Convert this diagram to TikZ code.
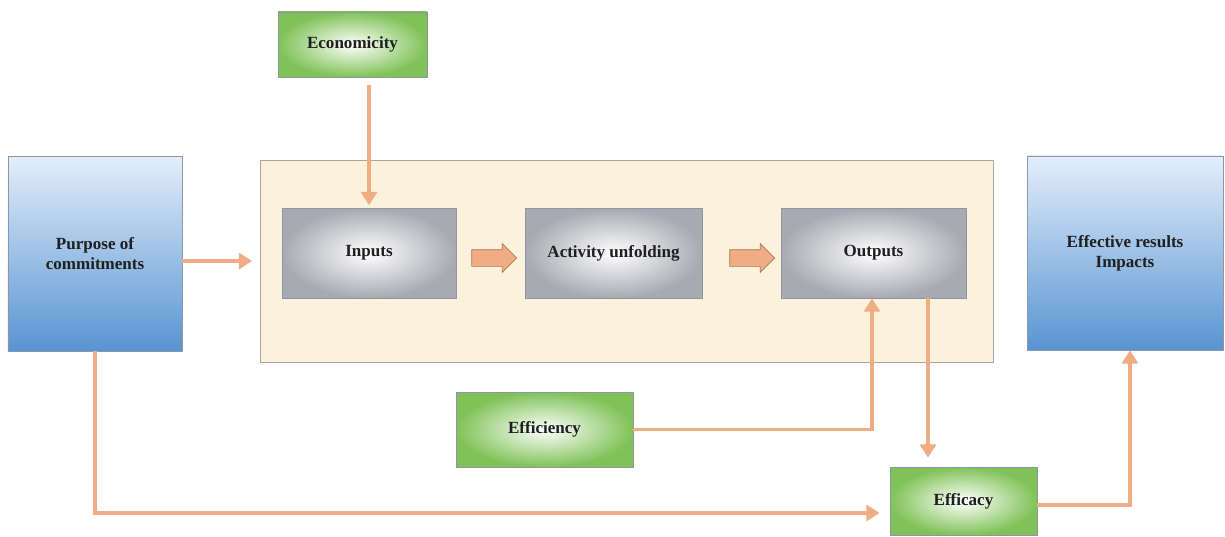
\documentclass[tikz,border=0pt]{standalone}
\usepackage{fontspec}
\setmainfont{Liberation Serif}
\usetikzlibrary{arrows.meta,shapes.arrows}
\definecolor{flowcol}{RGB}{240,172,130}
\definecolor{greenbox}{RGB}{128,194,88}
\definecolor{graybox}{RGB}{168,170,177}
\definecolor{bluetop}{RGB}{228,238,250}
\definecolor{bluebot}{RGB}{88,148,210}
\definecolor{bgfill}{RGB}{252,241,218}
\definecolor{edgecol}{RGB}{140,150,165}
\tikzset{
  lbl/.style={font=\fontsize{9.7}{11.5}\selectfont\bfseries, align=center, text=black!88},
  greenbox/.style={lbl, draw=edgecol, inner color=white, outer color=greenbox},
  graybox/.style={lbl, draw=edgecol, inner color=white, outer color=graybox},
  bluebox/.style={lbl, draw=edgecol, top color=bluetop, bottom color=bluebot},
  flow/.style={draw=flowcol, line width=2.2pt, -{Triangle[width=9pt,length=7.5pt]}},
  blockarrow/.style={single arrow, fill=flowcol, draw=flowcol!70!black, thin,
    minimum height=0.9cm, inner xsep=0pt, inner ysep=0.16cm,
    single arrow head extend=0.12cm, single arrow head indent=0pt}
}
\begin{document}
\begin{tikzpicture}
      \useasboundingbox (0,0) rectangle (24.5,-10.74);

      \node[draw=black!35, fill=bgfill, minimum width=14.66cm, minimum height=4.04cm] (bg) at (12.53,-5.22) {};

      \node[greenbox, minimum width=2.98cm, minimum height=1.3cm] (econ) at (7.05,-0.89) {Economicity};
      \node[bluebox, minimum width=3.48cm, minimum height=3.9cm] (purpose) at (1.9,-5.07) {Purpose of\\commitments};
      \node[graybox, minimum width=3.48cm, minimum height=1.8cm] (inputs) at (7.38,-5.06) {Inputs};
      \node[graybox, minimum width=3.54cm, minimum height=1.8cm] (activity) at (12.27,-5.06) {Activity unfolding};
      \node[graybox, minimum width=3.7cm, minimum height=1.8cm] (outputs) at (17.47,-5.06) {Outputs};
      \node[bluebox, minimum width=3.92cm, minimum height=3.88cm] (results) at (22.5,-5.06) {Effective results\\Impacts};
      \node[greenbox, minimum width=3.54cm, minimum height=1.5cm] (efficiency) at (10.89,-8.59) {Efficiency};
      \node[greenbox, minimum width=2.94cm, minimum height=1.36cm] (efficacy) at (19.27,-10.02) {Efficacy};

      \node[blockarrow] (ba1) at (9.8,-5.16) {};
      \node[blockarrow] (ba2) at (14.96,-5.16) {};

      \draw[flow] ([yshift=-0.16cm]inputs.north |- econ.south) -- ([yshift=0.05cm]inputs.north);
      \draw[flow] (purpose.east |- bg.west) -- ([xshift=-0.15cm]bg.west);
      \draw[flow] (efficiency.east) -| ([xshift=-0.03cm]outputs.south);
      \draw[flow] ([xshift=1.09cm]outputs.south) -- ([xshift=1.09cm,yshift=0.18cm]outputs.south |- efficacy.north);
      \draw[flow] (purpose.south) |- ([xshift=-0.2cm,yshift=-0.24cm]efficacy.west);
      \draw[flow] ([yshift=-0.08cm]efficacy.east) -| ([xshift=0.1cm]results.south);
\end{tikzpicture}
\end{document}
